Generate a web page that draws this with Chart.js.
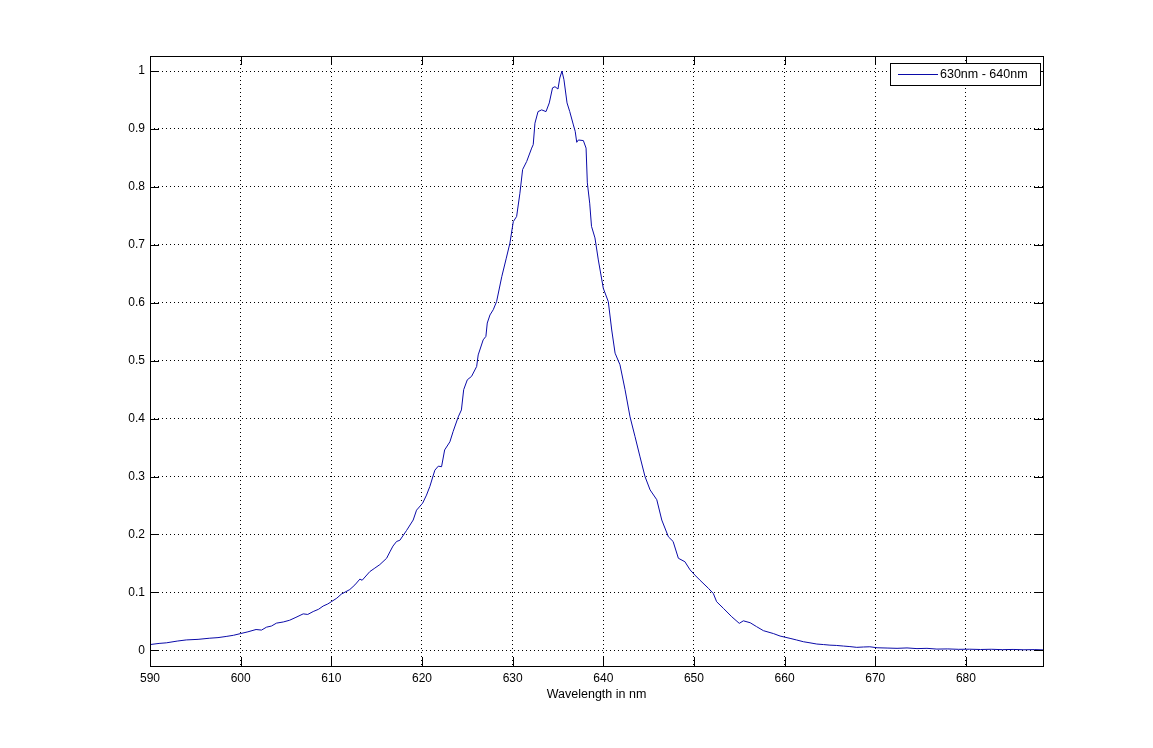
<!DOCTYPE html>
<html>
<head>
<meta charset="utf-8">
<script src="https://cdn.jsdelivr.net/npm/chart.js@4"></script>
<style>
  html, body { margin: 0; padding: 0; background: #fff; }
  #wrap { width: 1153px; height: 748px; position: relative; }
</style>
</head>
<body>
<div id="wrap"><canvas id="spectrumChart"></canvas></div>
<script>
// Data
const wavelengths = [
    590.0, 591.0, 591.8, 593.0, 594.0, 595.3, 596.6, 597.5, 598.4, 599.2,
    600.0, 600.8, 601.7, 602.3, 602.85, 603.4, 603.95, 604.7, 605.4, 606.1,
    606.9, 607.4, 608.0, 608.6, 609.1, 609.6, 610.0, 610.6, 611.1, 612.04,
    612.6, 613.15, 613.4, 614.25, 614.8, 615.35, 616.1, 616.46, 616.8, 617.2,
    617.56, 618.3, 619.03, 619.4, 620.07, 620.5, 620.87, 621.42, 621.8, 622.16,
    622.5, 623.08, 623.44, 624.0, 624.35, 624.6, 625.0, 625.47, 626.03, 626.2,
    626.75, 627.05, 627.2, 627.5, 627.86, 628.23, 628.8, 629.3, 629.7, 630.07,
    630.44, 630.8, 631.1, 631.55, 632.1, 632.27, 632.46, 632.8, 633.2, 633.68,
    634.04, 634.4, 634.67, 635.0, 635.2, 635.44, 635.66, 636.0, 636.3, 636.7,
    636.9, 637.07, 637.25, 637.8, 638.1, 638.24, 638.5, 638.7, 639.08, 639.45,
    640.0, 640.55, 640.93, 641.3, 641.84, 642.4, 642.95, 643.5, 644.05, 644.6,
    645.16, 645.9, 646.45, 647.18, 647.7, 648.28, 649.0, 649.57, 650.1, 650.67,
    651.6, 652.14, 652.5, 653.25, 654.17, 655.0, 655.45, 656.2, 656.9, 657.66,
    658.76, 659.5, 660.6, 661.3, 662.07, 662.8, 663.55, 664.3, 665.0, 665.7,
    666.5, 667.2, 667.96, 668.7, 669.4, 670.2, 671.3, 672.4, 673.5, 674.6,
    675.7, 676.8, 678.0, 679.2, 680.4, 681.6, 682.8, 684.0, 685.2, 686.4,
    687.6, 688.5
];
const intensity = [
    0.010, 0.012, 0.013, 0.016, 0.018, 0.019, 0.021, 0.022, 0.024, 0.026,
    0.029, 0.032, 0.036, 0.035, 0.040, 0.042, 0.047, 0.049, 0.052, 0.057,
    0.063, 0.062, 0.067, 0.071, 0.0765, 0.080, 0.084, 0.090, 0.097, 0.105,
    0.113, 0.123, 0.121, 0.136, 0.142, 0.148, 0.159, 0.170, 0.180, 0.188,
    0.190, 0.207, 0.225, 0.242, 0.254, 0.268, 0.283, 0.311, 0.318, 0.317,
    0.346, 0.360, 0.378, 0.403, 0.415, 0.450, 0.467, 0.473, 0.490, 0.510,
    0.536, 0.542, 0.565, 0.579, 0.588, 0.602, 0.645, 0.677, 0.703, 0.740,
    0.749, 0.789, 0.830, 0.844, 0.867, 0.873, 0.910, 0.930, 0.933, 0.930,
    0.945, 0.971, 0.973, 0.969, 0.988, 1.000, 0.985, 0.945, 0.930, 0.907,
    0.896, 0.877, 0.881, 0.880, 0.867, 0.807, 0.772, 0.732, 0.712, 0.674,
    0.625, 0.602, 0.553, 0.513, 0.493, 0.450, 0.403, 0.369, 0.334, 0.300,
    0.277, 0.260, 0.225, 0.196, 0.188, 0.159, 0.153, 0.139, 0.130, 0.121,
    0.107, 0.098, 0.084, 0.0725, 0.058, 0.0466, 0.051, 0.0477, 0.041, 0.034,
    0.029, 0.0247, 0.0207, 0.018, 0.0149, 0.013, 0.0109, 0.010, 0.009, 0.0085,
    0.0074, 0.0065, 0.0052, 0.0058, 0.0062, 0.0045, 0.004, 0.0035, 0.0042, 0.003,
    0.0035, 0.0022, 0.0025, 0.0018, 0.002, 0.0015, 0.0019, 0.0012, 0.0016, 0.001,
    0.0013, 0.0008
];
const xTicks = [590, 600, 610, 620, 630, 640, 650, 660, 670, 680];
const yTicks = [0, 0.1, 0.2, 0.3, 0.4, 0.5, 0.6, 0.7, 0.8, 0.9, 1];
const seriesLabel = '630nm - 640nm';
const xTitle = 'Wavelength in nm';

const LINE_COLOR = '#0a0aa8';
const FONT = '"Liberation Sans", Arial, sans-serif';

// MATLAB style box, inward tick marks and legend
const matlabFrame = {
    id: 'matlabFrame',
    afterDraw(chart) {
        const ctx = chart.ctx;
        const { left, right, top, bottom } = chart.chartArea;
        const tl = 9;
        ctx.save();
        ctx.strokeStyle = '#000';
        ctx.lineWidth = 1;
        ctx.beginPath();
        chart.scales.x.ticks.forEach(t => {
            const px = Math.round(chart.scales.x.getPixelForValue(t.value)) + 0.5;
            ctx.moveTo(px, bottom); ctx.lineTo(px, bottom - tl);
            ctx.moveTo(px, top); ctx.lineTo(px, top + tl);
        });
        chart.scales.y.ticks.forEach(t => {
            const py = Math.round(chart.scales.y.getPixelForValue(t.value)) + 0.5;
            ctx.moveTo(left, py); ctx.lineTo(left + tl, py);
            ctx.moveTo(right, py); ctx.lineTo(right - tl, py);
        });
        ctx.stroke();
        ctx.strokeRect(Math.round(left) + 0.5, Math.round(top) + 0.5,
            Math.round(right - left), Math.round(bottom - top));

        // legend box
        const lx = 890, ly = 63, lw = 150, lh = 22;
        ctx.fillStyle = '#fff';
        ctx.fillRect(lx, ly, lw, lh);
        ctx.strokeRect(lx + 0.5, ly + 0.5, lw, lh);
        ctx.strokeStyle = LINE_COLOR;
        ctx.beginPath();
        ctx.moveTo(898, ly + 11.5); ctx.lineTo(938, ly + 11.5);
        ctx.stroke();
        ctx.fillStyle = '#000';
        ctx.font = '12.5px ' + FONT;
        ctx.textBaseline = 'middle';
        ctx.fillText(seriesLabel, 940, ly + 12);
        ctx.restore();
    }
};

function initChart() {
    const ctx = document.getElementById('spectrumChart').getContext('2d');
    const points = wavelengths.map((w, i) => ({ x: w, y: intensity[i] }));

    new Chart(ctx, {
        type: 'line',
        data: {
            datasets: [{
                label: seriesLabel,
                data: points,
                borderColor: LINE_COLOR,
                borderWidth: 1,
                pointRadius: 0,
                tension: 0,
                fill: false
            }]
        },
        options: {
            responsive: true,
            maintainAspectRatio: false,
            animation: false,
            layout: { padding: { left: 0, right: 110, top: 56, bottom: 46 } },
            plugins: {
                legend: { display: false },
                tooltip: { enabled: false }
            },
            scales: {
                x: {
                    type: 'linear',
                    min: 590,
                    max: 688.5,
                    afterBuildTicks: s => { s.ticks = xTicks.map(v => ({ value: v })); },
                    afterFit: s => { s.height = 36; },
                    grid: { color: '#000', lineWidth: 1, drawTicks: false },
                    border: { display: false, dash: [1, 3] },
                    ticks: {
                        color: '#000',
                        padding: 5,
                        maxRotation: 0,
                        font: { family: FONT, size: 12 }
                    },
                    title: {
                        display: true,
                        text: xTitle,
                        color: '#000',
                        padding: { top: 0, bottom: 0 },
                        font: { family: FONT, size: 12.5 }
                    }
                },
                y: {
                    type: 'linear',
                    min: -0.027,
                    max: 1.026,
                    afterBuildTicks: s => { s.ticks = yTicks.map(v => ({ value: v })); },
                    afterFit: s => { s.width = 150; },
                    grid: { color: '#000', lineWidth: 1, drawTicks: false },
                    border: { display: false, dash: [1, 3] },
                    ticks: {
                        color: '#000',
                        padding: 5,
                        font: { family: FONT, size: 12 },
                        callback: v => String(Math.round(v * 10) / 10)
                    }
                }
            }
        },
        plugins: [matlabFrame]
    });
}

initChart();
</script>
</body>
</html>
